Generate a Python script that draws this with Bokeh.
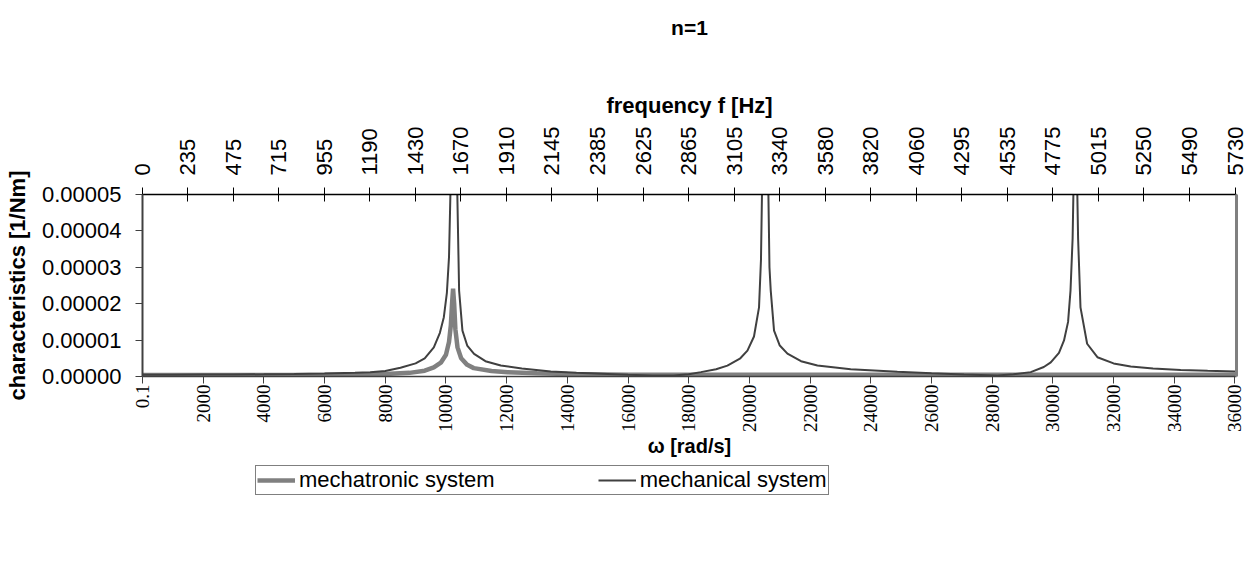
import math
from bokeh.plotting import figure
from bokeh.layouts import column
from bokeh.models import Range1d, LinearAxis, FixedTicker, Legend, Title
from bokeh.embed import file_html
from bokeh.resources import INLINE

# ---- data (values in 1/Nm) ----
omega_mech = [0.1, 1000, 2000, 3000, 4000, 5000, 6000, 7000, 7500, 8000, 8500, 9000, 9300, 9600,
              9800, 9930, 10030, 10100, 10200, 10268, 10330, 10433, 10543, 10700, 10926, 11300,
              11806, 12500, 13453, 14300, 15100, 16000, 16800, 17500, 18000, 18400, 18900, 19275,
              19700, 19934, 20150, 20316, 20380, 20450, 20520, 20590, 20660, 20702, 20811, 21000,
              21252, 21700, 22240, 23338, 24875, 26000, 27070, 28170, 28700, 29270, 29700, 29930,
              30200, 30366, 30500, 30580, 30650, 30700, 30740, 30780, 30830, 30909, 31128, 31466,
              32000, 32564, 33300, 34211, 35100, 36000]
char_mech = [0.50e-6, 0.50e-6, 0.52e-6, 0.55e-6, 0.60e-6, 0.68e-6, 0.80e-6, 1.0e-6, 1.2e-6, 1.5e-6,
             2.4e-6, 3.6e-6, 5.0e-6, 8.0e-6, 12.0e-6, 16.3e-6, 23.0e-6, 32.8e-6, 70e-6, 200e-6,
             70e-6, 23.6e-6, 12.6e-6, 8.5e-6, 6.2e-6, 4.2e-6, 3.0e-6, 2.2e-6, 1.4e-6, 1.0e-6,
             0.74e-6, 0.45e-6, 0.28e-6, 0.25e-6, 0.6e-6, 1.2e-6, 2.0e-6, 3.0e-6, 5.0e-6, 7.1e-6,
             11.0e-6, 19.0e-6, 32.0e-6, 70e-6, 200e-6, 70e-6, 30.0e-6, 23.6e-6, 12.6e-6, 8.5e-6,
             6.3e-6, 4.2e-6, 3.0e-6, 2.0e-6, 1.3e-6, 0.9e-6, 0.55e-6, 0.3e-6, 0.6e-6, 1.2e-6,
             2.6e-6, 3.9e-6, 6.5e-6, 9.9e-6, 15.0e-6, 23.6e-6, 38e-6, 62e-6, 200e-6, 62e-6,
             38e-6, 19.0e-6, 9.0e-6, 5.3e-6, 3.6e-6, 2.75e-6, 2.2e-6, 1.8e-6, 1.55e-6, 1.37e-6]

omega_mtr = [0.1, 2000, 4000, 6000, 7000, 8000, 8800, 9300, 9600, 9830, 10000, 10100, 10160, 10200,
             10234, 10270, 10310, 10380, 10500, 10700, 10916, 11500, 12036, 13000, 14000, 16000,
             20000, 24000, 28000, 32000, 36000]
char_mtr = [0.40e-6, 0.40e-6, 0.42e-6, 0.45e-6, 0.5e-6, 0.7e-6, 1.0e-6, 1.6e-6, 2.5e-6, 3.8e-6,
            6.0e-6, 9.5e-6, 14.0e-6, 20.0e-6, 24.1e-6, 20.0e-6, 13.0e-6, 8.0e-6, 5.0e-6, 3.2e-6,
            2.3e-6, 1.5e-6, 1.2e-6, 0.9e-6, 0.7e-6, 0.5e-6, 0.45e-6, 0.45e-6, 0.45e-6, 0.45e-6,
            0.5e-6]

omega_ticks = [0.1] + [2000 * k for k in range(1, 19)]
omega_labels = ["0.1", "2000", "4000", "6000", "8000", "10000", "12000", "14000", "16000",
                "18000", "20000", "22000", "24000", "26000", "28000", "30000", "32000",
                "34000", "36000"]
freq_ticks = [0, 235, 475, 715, 955, 1190, 1430, 1670, 1910, 2145, 2385, 2625, 2865, 3105,
              3340, 3580, 3820, 4060, 4295, 4535, 4775, 5015, 5250, 5490, 5730]
freq_labels = [str(v) for v in freq_ticks]
y_ticks = [0.0, 0.00001, 0.00002, 0.00003, 0.00004, 0.00005]
y_labels = ["0.00000", "0.00001", "0.00002", "0.00003", "0.00004", "0.00005"]
series_names = ["mechatronic system", "mechanical system"]

SANS = "Liberation Sans"
SERIF = "Liberation Serif"
X_END = 36050
C_MTR = "#808080"
C_MECH = "#404040"
W = 1252

p = figure(width=W, height=462, output_backend="svg", toolbar_location=None,
           x_range=Range1d(0, X_END), y_range=Range1d(0, 0.00005),
           min_border_left=142, min_border_right=16, min_border_top=194, min_border_bottom=86,
           title="n=1")
p.outline_line_color = None
p.xgrid.visible = False
p.ygrid.visible = False
p.background_fill_color = "white"

p.title.align = "center"
p.title.text_font = SANS
p.title.text_font_size = "21px"
p.title.text_font_style = "bold"
p.title.text_color = "black"

# bottom axis (omega)
xa = p.xaxis[0]
xa.ticker = FixedTicker(ticks=omega_ticks)
xa.major_label_overrides = dict(zip(omega_ticks, omega_labels))
xa.major_label_orientation = math.pi / 2
xa.major_label_text_font = SERIF
xa.major_label_text_font_size = "19px"
xa.major_label_text_color = "black"
xa.major_label_standoff = 1
xa.major_tick_out = 7
xa.major_tick_in = 0
xa.minor_tick_out = 0
xa.minor_tick_in = 0
xa.axis_line_color = "#404040"
xa.axis_line_width = 1.5
xa.major_tick_line_color = "#404040"
xa.axis_label = "ω [rad/s]"
xa.axis_label_text_font = SANS
xa.axis_label_text_font_size = "20px"
xa.axis_label_text_font_style = "bold"
xa.axis_label_text_color = "black"
xa.axis_label_standoff = 0

# left axis
ya = p.yaxis[0]
ya.ticker = FixedTicker(ticks=y_ticks)
ya.major_label_overrides = dict(zip(y_ticks, y_labels))
ya.major_label_text_font = SANS
ya.major_label_text_font_size = "22px"
ya.major_label_text_color = "black"
ya.major_label_standoff = 14
ya.major_tick_out = 7
ya.major_tick_in = 0
ya.minor_tick_out = 0
ya.minor_tick_in = 0
ya.axis_line_color = "#404040"
ya.axis_line_width = 2
ya.major_tick_line_color = "#404040"
ya.axis_label = "characteristics [1/Nm]"
ya.axis_label_text_font = SANS
ya.axis_label_text_font_size = "22px"
ya.axis_label_text_font_style = "bold"
ya.axis_label_text_color = "black"
ya.axis_label_standoff = 9

# top axis (frequency)
p.extra_x_ranges = {"freq": Range1d(0, X_END / (2 * math.pi))}
ta = LinearAxis(x_range_name="freq", ticker=FixedTicker(ticks=freq_ticks),
                major_label_overrides=dict(zip(freq_ticks, freq_labels)),
                major_label_orientation=math.pi / 2,
                major_label_text_font=SANS, major_label_text_font_size="22px",
                major_label_text_color="black", major_label_standoff=12,
                major_tick_out=7, major_tick_in=7, minor_tick_out=0, minor_tick_in=0,
                axis_line_color="black", axis_line_width=1.5, major_tick_line_color="black",
                axis_label="frequency f [Hz]", axis_label_text_font=SANS,
                axis_label_text_font_size="22px", axis_label_text_font_style="bold",
                axis_label_text_color="black", axis_label_standoff=6)
p.add_layout(ta, "above")
# blank gap between the frequency axis title and the chart title
p.add_layout(Title(text=" ", text_font_size="1px", standoff=43), "above")

# right border
ra = LinearAxis(ticker=FixedTicker(ticks=[]), axis_line_color=C_MTR, axis_line_width=3,
                major_label_text_font_size="0px", major_tick_out=0, minor_tick_out=0,
                major_tick_in=0, minor_tick_in=0)
p.add_layout(ra, "right")

p.line(omega_mtr, char_mtr, line_color=C_MTR, line_width=4.5)
p.line(omega_mech, char_mech, line_color=C_MECH, line_width=2)

# legend strip below the chart (its lines fall outside this strip's y range, only the legend shows)
lf = figure(width=W, height=90, output_backend="svg", toolbar_location=None,
            x_range=Range1d(0, 1), y_range=Range1d(1, 2),
            x_axis_location=None, y_axis_location=None, min_border=0)
lf.outline_line_color = None
lf.grid.visible = False
g_mtr = lf.line(omega_mtr, char_mtr, line_color=C_MTR, line_width=4.5)
g_mech = lf.line(omega_mech, char_mech, line_color=C_MECH, line_width=2)
legend = Legend(items=[(series_names[0], [g_mtr]), (series_names[1], [g_mech])],
                orientation="horizontal", location=(113, 57),
                border_line_color="black", border_line_width=1,
                label_text_font=SANS, label_text_font_size="22px", label_text_color="black",
                glyph_width=38, glyph_height=20, label_height=20, padding=1, spacing=103,
                label_standoff=4, margin=0)
lf.add_layout(legend, "center")

open("out.html", "w").write(file_html(column(p, lf), INLINE))
